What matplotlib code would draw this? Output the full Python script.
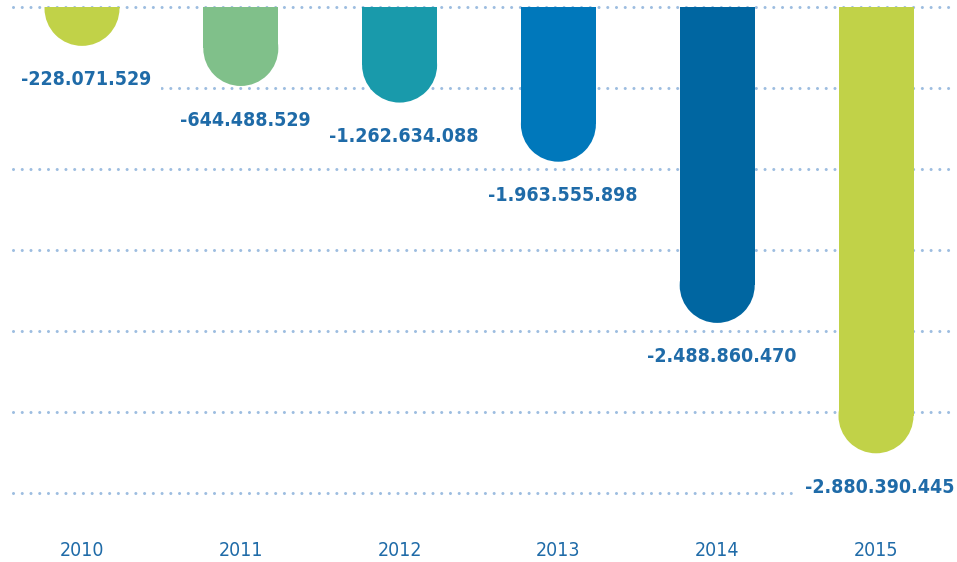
import matplotlib
matplotlib.use("Agg")
import matplotlib.pyplot as plt
from matplotlib.patches import Ellipse
import numpy as np

# data
years = ["2010", "2011", "2012", "2013", "2014", "2015"]
values = [-228071529, -644488529, -1262634088, -1963555898, -2488860470, -2880390445]
# drawn depth of each bar in grid steps (the chart is not drawn to scale)
depth = [0.48, 0.975, 1.18, 1.91, 3.90, 5.51]
colors = ["#c1d248", "#80c08a", "#199aab", "#0078bb", "#0066a1", "#c1d248"]
grid_levels = [0, -1, -2, -3, -4, -5, -6]

text_color = "#1f6ba8"
dot_color = "#9dbde0"

W, H = 957, 562
px_step = 81.0          # pixels per grid step
px_x = 158.8            # pixels between bar centres
x0 = 82.0               # pixel of first bar centre
top_px, bot_px = 7, 530

fig = plt.figure(figsize=(W / 100, H / 100), dpi=100)
ax = fig.add_axes([0, 1 - bot_px / H, 1, (bot_px - top_px) / H])
ax.set_xlim(-x0 / px_x, (W - x0) / px_x)
ax.set_ylim(-(bot_px - top_px) / px_step, 0)
ax.axis("off")

# dotted grid
gx0 = (13 - x0) / px_x
gx1 = (955 - x0) / px_x
for g in grid_levels:
    ax.plot([gx0, gx1], [g, g], color=dot_color, lw=2.2,
            linestyle=(0, (0.01, 2.85)), dash_capstyle="round",
            clip_on=False, zorder=1)

# bars with rounded bottoms
bw = 75 / px_x
r_y = 37.5 / px_step
x = np.arange(len(years))
ax.bar(x, [-(d - r_y) for d in depth], width=bw, bottom=0,
       color=colors, linewidth=0, zorder=3)
for xi, d, c in zip(x, depth, colors):
    ax.add_patch(Ellipse((xi, -d + r_y), bw, 2 * r_y, color=c, lw=0, zorder=3))


def fmt(v):
    s = f"{abs(v):,}".replace(",", ".")
    return "-" + s if v < 0 else s


for xi, d, v in zip(x, depth, values):
    ax.annotate(fmt(v), (xi, -d), xytext=(3, -24.5),
                textcoords="offset points", ha="center", va="center",
                fontsize=14, fontweight="bold", fontstretch="condensed",
                color=text_color, zorder=4,
                bbox=dict(boxstyle="square,pad=0.5", fc="white", ec="none"))

for xi, y in zip(x, years):
    ax.text(xi, -(550 - top_px) / px_step, y, ha="center", va="center",
            fontsize=14, fontstretch="condensed", color=text_color,
            clip_on=False)

fig.savefig("out.png", dpi=100)
